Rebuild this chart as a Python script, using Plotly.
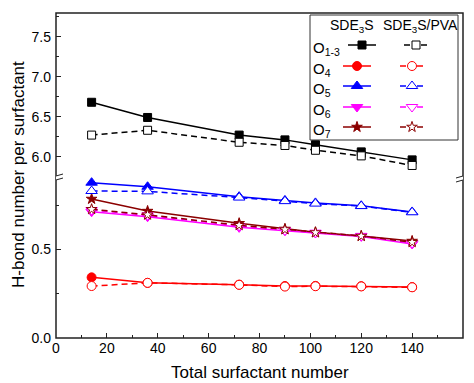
import plotly.graph_objects as go

# Total surfactant number in the aggregate
x_total = [14, 36, 72, 90, 102, 120, 140]

# H-bond number per surfactant, split by oxygen site
o13_sde = [6.68, 6.49, 6.27, 6.21, 6.15, 6.06, 5.96]
o13_pva = [6.27, 6.33, 6.18, 6.14, 6.08, 6.01, 5.89]
o4_sde = [0.342, 0.311, 0.301, 0.293, 0.294, 0.292, 0.287]
o4_pva = [0.293, 0.311, 0.300, 0.290, 0.292, 0.291, 0.286]
o5_sde = [0.876, 0.853, 0.797, 0.776, 0.762, 0.746, 0.711]
o5_pva = [0.829, 0.827, 0.792, 0.772, 0.758, 0.744, 0.709]
o6_sde = [0.712, 0.684, 0.624, 0.605, 0.592, 0.573, 0.530]
o6_pva = [0.722, 0.692, 0.632, 0.607, 0.594, 0.576, 0.535]
o7_sde = [0.784, 0.716, 0.647, 0.615, 0.596, 0.575, 0.547]
o7_pva = [0.726, 0.695, 0.636, 0.612, 0.595, 0.575, 0.540]

x_ticks = [0, 20, 40, 60, 80, 100, 120, 140, 160]
y_low_ticks = [0.0, 0.5]
y_high_ticks = [6.0, 6.5, 7.0, 7.5]

row_labels = ["O<sub>1-3</sub>", "O<sub>4</sub>", "O<sub>5</sub>", "O<sub>6</sub>", "O<sub>7</sub>"]
col_labels = ["SDE<sub>3</sub>S", "SDE<sub>3</sub>S/PVA"]

colors = ["#000000", "#ff0000", "#0000ff", "#ff00ff", "#8b0000"]
symbols = ["square", "circle", "triangle-up", "triangle-down", "star"]
sizes = [8, 9, 10, 10, 8]

FONT = "Arial, 'Liberation Sans', sans-serif"
W, H = 474, 383
ML, MR, MT, MB = 56, 11, 13, 45
PW, PH = W - ML - MR, H - MT - MB

series = [
    (o13_sde, o13_pva, "y2"),
    (o4_sde, o4_pva, "y"),
    (o5_sde, o5_pva, "y"),
    (o6_sde, o6_pva, "y"),
    (o7_sde, o7_pva, "y"),
]

fig = go.Figure()

for i, (sde, pva, yax) in enumerate(series):
    fig.add_trace(go.Scatter(
        x=x_total, y=sde, xaxis="x", yaxis=yax, mode="lines+markers",
        line=dict(color=colors[i], width=1.5),
        marker=dict(symbol=symbols[i], size=sizes[i], color=colors[i],
                    line=dict(color=colors[i], width=1)),
        showlegend=False, cliponaxis=False))
for i, (sde, pva, yax) in enumerate(series):
    fig.add_trace(go.Scatter(
        x=x_total, y=pva, xaxis="x", yaxis=yax, mode="lines+markers",
        line=dict(color=colors[i], width=1.5, dash="6px,4px"),
        marker=dict(symbol=symbols[i], size=sizes[i], color="white",
                    line=dict(color=colors[i], width=1)),
        showlegend=False, cliponaxis=False))

# Key: pixel-like overlay coordinates (x: 56..463 left→right, y: 13..338 top→bottom)
row_y = [45, 66, 86, 107, 127]
for i, ry in enumerate(row_y):
    x0 = 348 if i == 0 else 343
    fig.add_trace(go.Scatter(
        x=[x0, x0 + 28], y=[ry, ry], xaxis="x2", yaxis="y3", mode="lines",
        line=dict(color=colors[i], width=1.5), showlegend=False, hoverinfo="skip"))
    fig.add_trace(go.Scatter(
        x=[x0 + 14], y=[ry], xaxis="x2", yaxis="y3", mode="markers",
        marker=dict(symbol=symbols[i], size=sizes[i], color=colors[i],
                    line=dict(color=colors[i], width=1)),
        showlegend=False, hoverinfo="skip"))
    p0 = 404 if i == 0 else 400
    fig.add_trace(go.Scatter(
        x=[p0, p0 + 6, None, p0 + 17, p0 + 23], y=[ry, ry, None, ry, ry],
        xaxis="x2", yaxis="y3", mode="lines",
        line=dict(color=colors[i], width=1.5), showlegend=False, hoverinfo="skip"))
    fig.add_trace(go.Scatter(
        x=[p0 + 12], y=[ry], xaxis="x2", yaxis="y3", mode="markers",
        marker=dict(symbol=symbols[i], size=sizes[i], color="white",
                    line=dict(color=colors[i], width=1)),
        showlegend=False, hoverinfo="skip"))
    fig.add_annotation(xref="x2", yref="y3", x=311, y=ry + 3, text=row_labels[i],
                       showarrow=False, xanchor="left", yanchor="middle",
                       font=dict(family=FONT, size=15, color="black"))

fig.add_annotation(xref="x2", yref="y3", x=352, y=26, text=col_labels[0],
                   showarrow=False, xanchor="center", yanchor="middle",
                   font=dict(family=FONT, size=14, color="black"))
fig.add_annotation(xref="x2", yref="y3", x=420, y=26, text=col_labels[1],
                   showarrow=False, xanchor="center", yanchor="middle",
                   font=dict(family=FONT, size=14, color="black"))

shapes = [
    dict(type="rect", xref="x2", yref="y3", x0=310, x1=458, y0=15, y1=140,
         line=dict(color="#333333", width=1), layer="below"),
    dict(type="rect", xref="paper", yref="paper", x0=0, x1=1, y0=0, y1=1,
         line=dict(color="#222222", width=1.5)),
]

# Axis break marks on left and right frame edges
by = 176.0
for ax in (56, 463):
    shapes.append(dict(type="path", xref="x2", yref="y3",
                       path=f"M {ax-7},{by+2} L {ax+7},{by-2} L {ax+7},{by+2} L {ax-7},{by+6} Z",
                       fillcolor="white", line=dict(width=0)))
    for off in (0, 4):
        shapes.append(dict(type="line", xref="x2", yref="y3",
                           x0=ax - 7, y0=by + 2 + off, x1=ax + 7, y1=by - 2 + off,
                           line=dict(color="#222222", width=1)))

tickfont = dict(family=FONT, size=14, color="black")
fig.update_layout(
    width=W, height=H,
    margin=dict(l=ML, r=MR, t=MT, b=MB, pad=0),
    paper_bgcolor="white", plot_bgcolor="rgba(0,0,0,0)",
    shapes=shapes,
    xaxis=dict(domain=[0, 1], range=[0, 160], tickvals=x_ticks, ticks="inside",
               ticklen=5, tickwidth=1, tickcolor="#222222", showgrid=False,
               zeroline=False, showline=False, tickfont=tickfont, anchor="y",
               minor=dict(dtick=10, tick0=0, ticks="inside", ticklen=3,
                          tickcolor="#222222", showgrid=False)),
    yaxis=dict(domain=[0, 0.497], range=[0, 0.911], tickvals=y_low_ticks,
               ticktext=[f"{v:.1f}" for v in y_low_ticks], ticks="inside",
               ticklen=5, tickwidth=1, tickcolor="#222222", showgrid=False,
               zeroline=False, showline=False, tickfont=tickfont, anchor="x",
               ticklabelstandoff=4,
               minor=dict(tickvals=[0.25, 0.75], ticks="inside", ticklen=3,
                          tickcolor="#222222", showgrid=False)),
    yaxis2=dict(domain=[0.503, 1], range=[5.777, 7.796], tickvals=y_high_ticks,
                ticktext=[f"{v:.1f}" for v in y_high_ticks], ticks="inside",
                ticklen=5, tickwidth=1, tickcolor="#222222", showgrid=False,
                zeroline=False, showline=False, tickfont=tickfont, anchor="x",
                ticklabelstandoff=4,
                minor=dict(tickvals=[6.25, 6.75, 7.25, 7.75], ticks="inside",
                           ticklen=3, tickcolor="#222222", showgrid=False)),
    xaxis2=dict(domain=[0, 1], range=[56, 463], visible=False, anchor="y3",
                fixedrange=True),
    yaxis3=dict(domain=[0, 1], range=[338, 13], visible=False, anchor="x2",
                fixedrange=True),
)

fig.add_annotation(xref="paper", yref="paper", x=0.5, y=(338 - 372) / PH,
                   text="Total surfactant number", showarrow=False,
                   xanchor="center", yanchor="middle",
                   font=dict(family=FONT, size=17, color="black"))
fig.add_annotation(xref="paper", yref="paper", x=(18 - ML) / PW, y=(338 - 175) / PH,
                   text="H-bond number per surfactant", showarrow=False, textangle=-90,
                   xanchor="center", yanchor="middle",
                   font=dict(family=FONT, size=17, color="black"))

fig.write_html("out.html")
